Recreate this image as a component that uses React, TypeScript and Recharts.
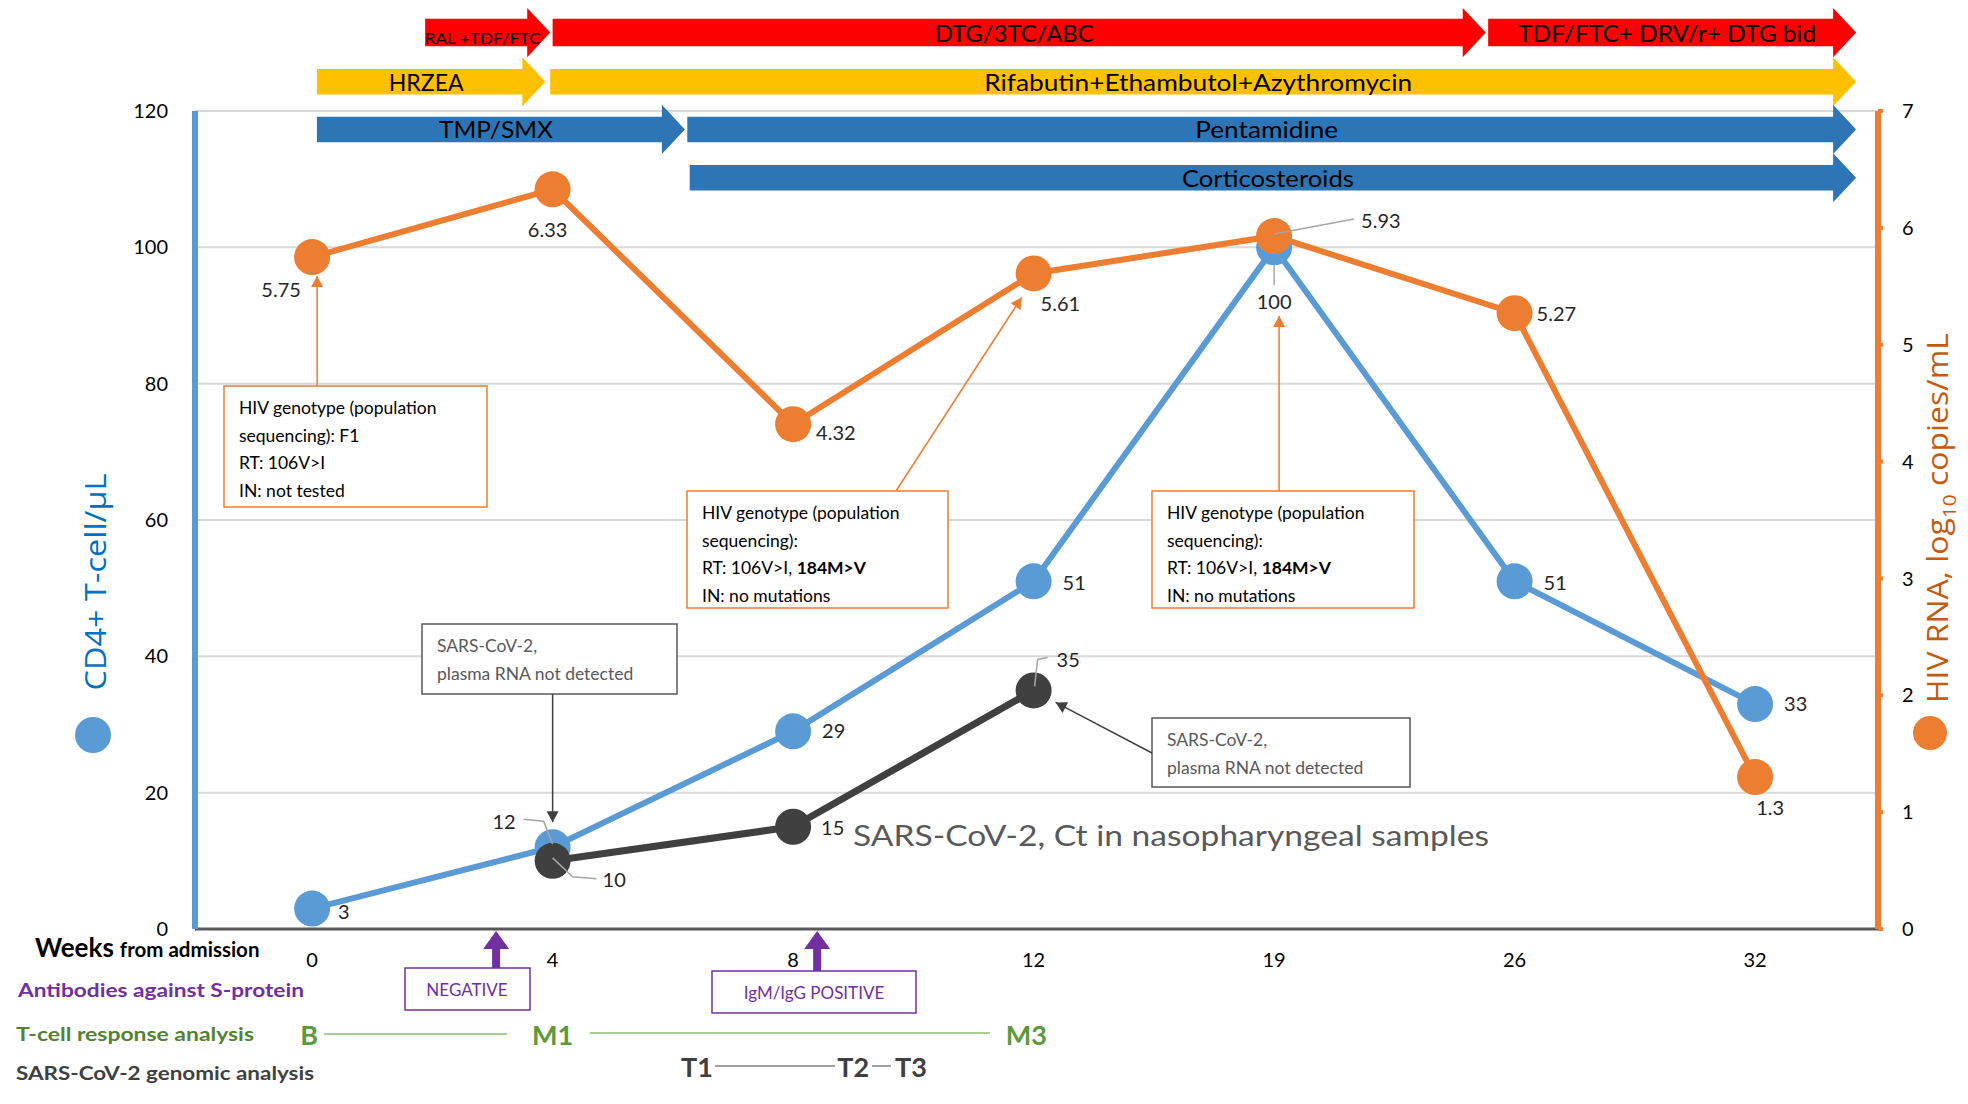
import React from 'react'
import {
  ComposedChart, Line, XAxis, YAxis, CartesianGrid, ReferenceArea, LabelList, Customized,
} from 'recharts'

const WEEKS = ['0', '4', '8', '12', '19', '26', '32']
const CD4 = [3, 12, 29, 51, 100, 51, 33]
const HIV_RNA = [5.75, 6.33, 4.32, 5.61, 5.93, 5.27, 1.3]
const SARS_CT: (number | null)[] = [null, 10, 15, 35, null, null, null]
const LEFT_TICKS = [0, 20, 40, 60, 80, 100, 120]
const RIGHT_TICKS = [0, 1, 2, 3, 4, 5, 6, 7]

// treatment periods, in week-index units (0 = week 0 ... 6 = week 32)
const TREATMENTS = [
  { label: 'RAL +TDF/FTC', from: 0.47, to: 0.99, row: 0 },
  { label: 'DTG/3TC/ABC', from: 1.0, to: 4.88, row: 0 },
  { label: 'TDF/FTC+ DRV/r+ DTG bid', from: 4.89, to: 6.42, row: 0 },
  { label: 'HRZEA', from: 0.02, to: 0.97, row: 1 },
  { label: 'Rifabutin+Ethambutol+Azythromycin', from: 0.99, to: 6.42, row: 1 },
  { label: 'TMP/SMX', from: 0.02, to: 1.55, row: 2 },
  { label: 'Pentamidine', from: 1.56, to: 6.42, row: 2 },
  { label: 'Corticosteroids', from: 1.57, to: 6.42, row: 3 },
]

const ROW_COLOR = ['#FF0000', '#FFC000', '#2E75B6', '#2E75B6']
const ROW_Y = [131.5, 124.3, 117.3, 110.2]
const TEXT_W: Record<string, number> = {
  'RAL +TDF/FTC': 116, 'DTG/3TC/ABC': 159, 'TDF/FTC+ DRV/r+ DTG bid': 298, HRZEA: 75,
  'Rifabutin+Ethambutol+Azythromycin': 428, 'TMP/SMX': 114, Pentamidine: 143, Corticosteroids: 172,
}

const FONT = 'Lato, "Open Sans", sans-serif'
const BLUE = '#5B9BD5'
const ORANGE = '#ED7D31'
const DARK = '#404040'
const PURPLE = '#7030A0'
const GREEN = '#5A9A3A'

const W = 1968
const H = 1104
const PLOT = { left: 195, top: 111, right: 1878, bottom: 929 }
const X_DOMAIN: [number, number] = [-0.487, 6.511]
const xPx = (i: number) => PLOT.left + ((i - X_DOMAIN[0]) / (X_DOMAIN[1] - X_DOMAIN[0])) * (PLOT.right - PLOT.left)
const yL = (v: number) => PLOT.bottom - (v / 120) * (PLOT.bottom - PLOT.top)
const yR = (v: number) => PLOT.bottom - (v / 7) * (PLOT.bottom - PLOT.top)

const data = WEEKS.map((w, i) => ({ i, week: w, cd4: CD4[i], rna: HIV_RNA[i], ct: SARS_CT[i] }))

type LabelPos = { dx: number; dy: number; anchor: 'start' | 'middle' | 'end'; leader?: number[][] }

const CD4_LABELS: LabelPos[] = [
  { dx: 26, dy: 2, anchor: 'start' },
  { dx: -37, dy: -26, anchor: 'end', leader: [[-29, -28], [-9, -26], [0, -3]] },
  { dx: 29, dy: -1, anchor: 'start' },
  { dx: 29, dy: 1, anchor: 'start' },
  { dx: 0, dy: 54, anchor: 'middle', leader: [[0, 18], [0, 38]] },
  { dx: 29, dy: 1, anchor: 'start' },
  { dx: 29, dy: -1, anchor: 'start' },
]
const RNA_LABELS: LabelPos[] = [
  { dx: -31, dy: 32, anchor: 'middle' },
  { dx: -5, dy: 40, anchor: 'middle' },
  { dx: 23, dy: 8, anchor: 'start' },
  { dx: 7, dy: 30, anchor: 'start' },
  { dx: 87, dy: -16, anchor: 'start', leader: [[0, -2], [80, -17]] },
  { dx: 22, dy: 0, anchor: 'start' },
  { dx: 15, dy: 30, anchor: 'middle' },
]
const CT_LABELS: LabelPos[] = [
  { dx: 0, dy: 0, anchor: 'start' },
  { dx: 50, dy: 18, anchor: 'start', leader: [[0, -3], [20, 16], [44, 18]] },
  { dx: 28, dy: 0, anchor: 'start' },
  { dx: 23, dy: -31, anchor: 'start', leader: [[1, -4], [4, -31], [14, -33]] },
]

const pointLabel = (pos: LabelPos[]) => (props: any) => {
  const vb = props.viewBox || {}
  const x = props.x ?? vb.x
  const y = props.y ?? vb.y
  const { value, index } = props
  if (value == null || x == null || y == null) return null
  const o = pos[index]
  if (!o) return null
  return (
    <g>
      {o.leader && (
        <polyline points={o.leader.map(([dx, dy]) => `${x + dx},${y + dy}`).join(' ')}
          fill="none" stroke="#a6a6a6" strokeWidth={1.5} />
      )}
      <text x={x + o.dx} y={y + o.dy} textAnchor={o.anchor} dominantBaseline="central"
        fontSize={20} fill="#262626" fontFamily={FONT}>{value}</text>
    </g>
  )
}

const arrowShape = (t: typeof TREATMENTS[number]) => (p: any) => {
  const { x, y, width, height } = p
  if (x == null || width == null) return null
  const head = 23
  const bodyH = height * (t.row === 0 ? 0.56 : 0.52)
  const by = y + (height - bodyH) / 2
  const bx2 = x + width - head
  const pts = [
    [x, by], [bx2, by], [bx2, y], [x + width, y + height / 2],
    [bx2, y + height], [bx2, by + bodyH], [x, by + bodyH],
  ].map(q => q.join(',')).join(' ')
  const small = t.label === 'RAL +TDF/FTC'
  return (
    <g>
      <polygon points={pts} fill={ROW_COLOR[t.row]} />
      <text x={x + (width - 10) / 2} y={y + height / 2 + (small ? 5 : 0)} textAnchor="middle"
        dominantBaseline="central" fontSize={small ? 16 : 23} fill="#000" fontFamily={FONT}
        textLength={TEXT_W[t.label]} lengthAdjust="spacingAndGlyphs">{t.label}</text>
    </g>
  )
}

const head = (x1: number, y1: number, x2: number, y2: number, size: number, color: string) => {
  const a = Math.atan2(y2 - y1, x2 - x1)
  const w = size * 0.55
  const bx = x2 - size * Math.cos(a)
  const by = y2 - size * Math.sin(a)
  const pts = [
    [x2, y2],
    [bx + w * Math.sin(a), by - w * Math.cos(a)],
    [bx - w * Math.sin(a), by + w * Math.cos(a)],
  ].map(q => q.join(',')).join(' ')
  return <polygon points={pts} fill={color} />
}

const Leader = ({ x1, y1, x2, y2, color }: { x1: number; y1: number; x2: number; y2: number; color: string }) => (
  <g>
    <line x1={x1} y1={y1} x2={x2} y2={y2} stroke={color} strokeWidth={1.5} />
    {head(x1, y1, x2, y2, 11, color)}
  </g>
)

const NoteBox = ({ x, y, w, h, stroke, color, lines }: {
  x: number; y: number; w: number; h: number; stroke: string; color: string; lines: React.ReactNode[]
}) => (
  <g>
    <rect x={x} y={y} width={w} height={h} fill="#fff" stroke={stroke} strokeWidth={1.5} />
    {lines.map((l, k) => (
      <text key={k} x={x + 15} y={y + 28 + k * 27.5} fontSize={17.5} fill={color} fontFamily={FONT}>{l}</text>
    ))}
  </g>
)

const PurpleArrow = ({ i }: { i: number }) => {
  const x = xPx(i)
  const tip = yL(0) + 2
  return (
    <g>
      <rect x={x - 4} y={tip + 14} width={8} height={28} fill={PURPLE} />
      <polygon points={`${x},${tip} ${x - 13},${tip + 18} ${x + 13},${tip + 18}`} fill={PURPLE} />
    </g>
  )
}

const GENO_HEAD = 'HIV genotype (population'
const RT_184 = <tspan key="b">RT: 106V&gt;I, <tspan fontWeight={700}>184M&gt;V</tspan></tspan>

const Overlay = () => (
  <g fontFamily={FONT}>
    {/* axis titles */}
    <text transform="translate(94,582) rotate(-90)" textAnchor="middle" dominantBaseline="central"
      fontSize={29} fill="#0070C0" fontFamily='"Open Sans", sans-serif' textLength={217}
      lengthAdjust="spacingAndGlyphs">CD4+ T-cell/µL</text>
    <circle cx={93} cy={735} r={18} fill={BLUE} />
    <text transform="translate(1936,518) rotate(-90)" textAnchor="middle" dominantBaseline="central"
      fontSize={29} fill="#C55A11" fontFamily='"Open Sans", sans-serif' textLength={370}
      lengthAdjust="spacingAndGlyphs">
      HIV RNA, log<tspan fontSize={19} baselineShift="sub">10</tspan> copies/mL
    </text>
    <circle cx={1930} cy={733} r={17} fill={ORANGE} />

    {/* genotype notes */}
    <NoteBox x={224} y={386} w={263} h={121} stroke={ORANGE} color="#000"
      lines={[GENO_HEAD, 'sequencing): F1', 'RT: 106V>I', 'IN: not tested']} />
    <Leader x1={xPx(0) + 5} y1={386} x2={xPx(0) + 5} y2={yR(5.75) + 19} color={ORANGE} />
    <NoteBox x={687} y={491} w={261} h={117} stroke={ORANGE} color="#000"
      lines={[GENO_HEAD, 'sequencing):', RT_184, 'IN: no mutations']} />
    <Leader x1={896} y1={491} x2={xPx(3) - 12} y2={yR(5.61) + 24} color={ORANGE} />
    <NoteBox x={1152} y={491} w={262} h={117} stroke={ORANGE} color="#000"
      lines={[GENO_HEAD, 'sequencing):', RT_184, 'IN: no mutations']} />
    <Leader x1={xPx(4) + 5} y1={491} x2={xPx(4) + 5} y2={yR(5.93) + 80} color={ORANGE} />

    {/* SARS-CoV-2 plasma notes */}
    <NoteBox x={422} y={624} w={255} h={70} stroke="#595959" color="#595959"
      lines={['SARS-CoV-2,', 'plasma RNA not detected']} />
    <Leader x1={xPx(1)} y1={694} x2={xPx(1)} y2={yL(12) - 25} color="#404040" />
    <NoteBox x={1152} y={718} w={258} h={69} stroke="#595959" color="#595959"
      lines={['SARS-CoV-2,', 'plasma RNA not detected']} />
    <Leader x1={1152} y1={753} x2={xPx(3) + 22} y2={yL(35) + 12} color="#404040" />

    <text x={853} y={846} fontSize={29} fill="#595959" textLength={636} lengthAdjust="spacingAndGlyphs">
      SARS-CoV-2, Ct in nasopharyngeal samples
    </text>

    {/* rows below the axis */}
    <text x={35} y={957} fill="#000" fontWeight={700}>
      <tspan fontSize={26}>Weeks</tspan>
      <tspan fontSize={20.5} dx={6}>from admission</tspan>
    </text>
    <text x={18} y={997} fontSize={19} fontWeight={700} fill={PURPLE} textLength={286}
      lengthAdjust="spacingAndGlyphs">Antibodies against S-protein</text>
    <text x={16} y={1041} fontSize={19} fontWeight={700} fill="#548235" textLength={238}
      lengthAdjust="spacingAndGlyphs">T-cell response analysis</text>
    <text x={16} y={1080} fontSize={19} fontWeight={700} fill={DARK} textLength={298}
      lengthAdjust="spacingAndGlyphs">SARS-CoV-2 genomic analysis</text>

    <PurpleArrow i={0.765} />
    <PurpleArrow i={2.1} />
    <rect x={405} y={968} width={125} height={42} fill="#fff" stroke={PURPLE} strokeWidth={1.5} />
    <text x={467} y={989} textAnchor="middle" dominantBaseline="central" fontSize={17} fill={PURPLE}>NEGATIVE</text>
    <rect x={712} y={971} width={204} height={42} fill="#fff" stroke={PURPLE} strokeWidth={1.5} />
    <text x={814} y={992} textAnchor="middle" dominantBaseline="central" fontSize={17} fill={PURPLE}>IgM/IgG POSITIVE</text>

    <line x1={324} y1={1034} x2={507} y2={1034} stroke="#8DBE6E" strokeWidth={1.5} />
    <line x1={590} y1={1033} x2={990} y2={1033} stroke="#8DBE6E" strokeWidth={1.5} />
    <text x={xPx(0) - 3} y={1045} textAnchor="middle" fontSize={27} fontWeight={700} fill={GREEN}>B</text>
    <text x={xPx(1)} y={1045} textAnchor="middle" fontSize={27} fontWeight={700} fill={GREEN}>M1</text>
    <text x={xPx(2.97)} y={1045} textAnchor="middle" fontSize={27} fontWeight={700} fill={GREEN}>M3</text>

    <line x1={715} y1={1066} x2={835} y2={1066} stroke="#808080" strokeWidth={1.5} />
    <line x1={872} y1={1066} x2={891} y2={1066} stroke="#808080" strokeWidth={1.5} />
    <text x={xPx(1.6)} y={1077} textAnchor="middle" fontSize={27} fontWeight={700} fill={DARK}>T1</text>
    <text x={xPx(2.25)} y={1077} textAnchor="middle" fontSize={27} fontWeight={700} fill={DARK}>T2</text>
    <text x={xPx(2.49)} y={1077} textAnchor="middle" fontSize={27} fontWeight={700} fill={DARK}>T3</text>
  </g>
)

export default function App() {
  return (
    <div style={{ position: 'absolute', left: 0, top: 0, width: W, height: H, background: '#fff', fontFamily: FONT }}>
      <ComposedChart width={W} height={H} data={data} margin={{ top: PLOT.top, right: 0, bottom: 0, left: 0 }}>
        <CartesianGrid horizontal vertical={false} stroke="#d9d9d9" strokeWidth={2} />
        <XAxis type="number" dataKey="i" domain={X_DOMAIN} ticks={[0, 1, 2, 3, 4, 5, 6]} interval={0}
          tickFormatter={(v: number) => WEEKS[v]} height={H - PLOT.bottom}
          axisLine={{ stroke: '#595959', strokeWidth: 3 }} tickLine={false} tickSize={0} tickMargin={24}
          tick={{ fontSize: 20, fill: '#000', fontFamily: FONT }} />
        <YAxis domain={[0, 120]} ticks={LEFT_TICKS} width={PLOT.left} interval={0}
          axisLine={{ stroke: BLUE, strokeWidth: 6 }} tickLine={false} tickSize={0} tickMargin={27}
          tick={{ fontSize: 20, fill: '#000', fontFamily: FONT }} />
        <YAxis yAxisId="right" orientation="right" domain={[0, 7]} ticks={RIGHT_TICKS} width={W - PLOT.right}
          interval={0} axisLine={{ stroke: ORANGE, strokeWidth: 6 }} tickLine={{ stroke: ORANGE, strokeWidth: 4 }}
          tickSize={5} tickMargin={19} tick={{ fontSize: 20, fill: '#000', fontFamily: FONT }} />

        {TREATMENTS.map(t => (
          <ReferenceArea key={t.label} x1={t.from} x2={t.to} y1={ROW_Y[t.row] - 3.6} y2={ROW_Y[t.row] + 3.6}
            ifOverflow="visible" shape={arrowShape(t)} />
        ))}

        <Line dataKey="cd4" stroke={BLUE} strokeWidth={6} isAnimationActive={false}
          dot={{ r: 18, fill: BLUE, stroke: BLUE, strokeWidth: 0 }} activeDot={false}>
          <LabelList dataKey="cd4" content={pointLabel(CD4_LABELS)} />
        </Line>
        <Line dataKey="ct" stroke="#404040" strokeWidth={7} isAnimationActive={false} connectNulls={false}
          dot={{ r: 18, fill: '#404040', stroke: '#404040', strokeWidth: 0 }} activeDot={false}>
          <LabelList dataKey="ct" content={pointLabel(CT_LABELS)} />
        </Line>
        <Line yAxisId="right" dataKey="rna" stroke={ORANGE} strokeWidth={6} isAnimationActive={false}
          dot={{ r: 18, fill: ORANGE, stroke: ORANGE, strokeWidth: 0 }} activeDot={false}>
          <LabelList dataKey="rna" content={pointLabel(RNA_LABELS)} />
        </Line>

        <Customized component={<Overlay />} />
      </ComposedChart>
    </div>
  )
}
